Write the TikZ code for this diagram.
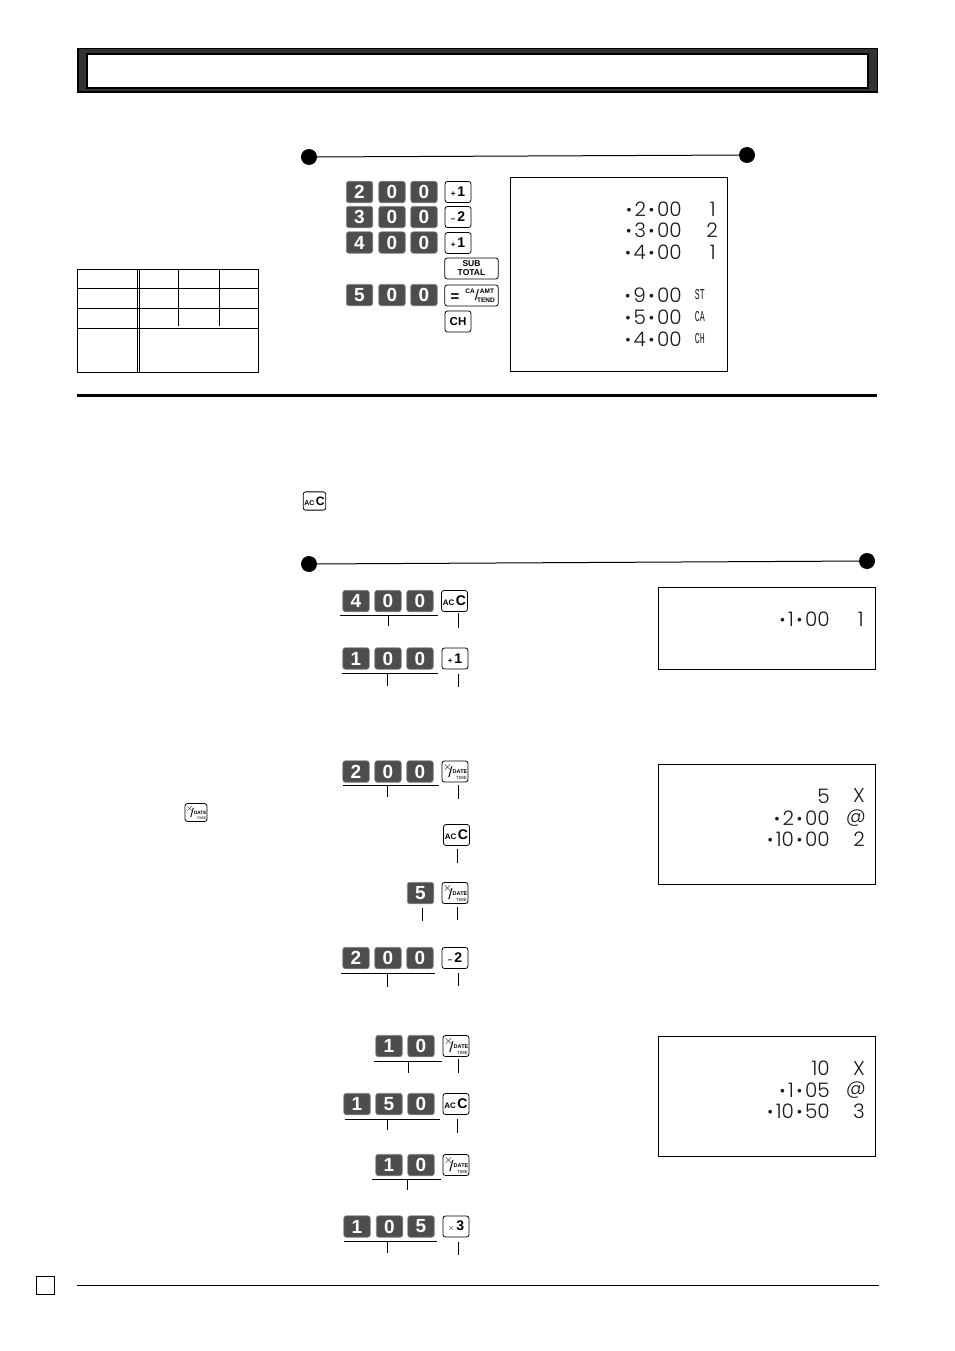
\documentclass[tikz,border=0pt]{standalone}
\usepackage{fontspec,graphicx}
\setsansfont{Liberation Sans}
\newfontfamily\lcdfont{Poppins Light}
\newfontfamily\lcdnarrow{Liberation Mono}
\definecolor{keydark}{HTML}{4D4D4D}
\definecolor{barband}{HTML}{333333}
\newcommand{\lcddot}{\raisebox{1pt}{\scalebox{.8}{\,•\,}}}
\newcommand{\lcdtag}[1]{\scalebox{.55}[1]{{\lcdnarrow\fontsize{15}{15}\selectfont #1}}}
\newcommand{\keytick}[4]{
	\coordinate (#1a) at (#2,#3);
	\coordinate (#1b) at (#2,#4);
	\draw [ mark line ] (#1a) -- (#1b);
}
\newcommand{\keyline}[4]{
	\coordinate (#1a) at (#2,#4);
	\coordinate (#1b) at (#3,#4);
	\draw [ mark line ] (#1a) -- (#1b);
}
\newcommand{\datekey}[4]{
	\begin{scope}[shift={(#2,#3)},scale=#4,transform shape]
		\node [fnkey] (#1) at (0,0) {};
		\node [font=\sffamily\bfseries\fontsize{12}{12}\selectfont,inner sep=0pt] (#1x) at (-7.5,-4.5) {$\times$};
		\node [font=\sffamily\fontsize{15}{15}\selectfont,inner sep=0pt] (#1s) at (-4.5,1) {/};
		\node [font=\sffamily\bfseries\fontsize{5.5}{5.5}\selectfont,inner sep=0pt] (#1d) at (5,0.5) {DATE};
		\node [font=\sffamily\bfseries\fontsize{4.5}{4.5}\selectfont,text=black!65,inner sep=0pt] (#1t) at (6.5,6.5) {TIME};
	\end{scope}
}
\newcommand{\ackey}[2]{
	\node [fnkey] (#1) at #2
		{ {\fontsize{8}{8}\selectfont AC}\hspace{1.5pt}{\fontsize{14}{14}\selectfont C} };
}
\newcommand{\numkey}[4]{
	\node [fnkey] (#1) at #2
		{ {\fontsize{#4}{#4}\selectfont #3} };
}
\tikzset{
	numkey/.style={fill=keydark,draw=black!45,line width=.6pt,rounded corners=2.5pt,
		minimum width=26.5pt,minimum height=21.5pt,inner sep=0pt,text=white,
		font=\sffamily\bfseries\fontsize{19}{19}\selectfont},
	fnkey/.style={fill=white,draw=black,line width=.8pt,rounded corners=2.5pt,
		minimum width=26pt,minimum height=21pt,inner sep=0pt,
		font=\sffamily\bfseries\fontsize{14}{14}\selectfont},
	widekey/.style={fnkey,minimum width=53.5pt},
	lcd/.style={font=\lcdfont\fontsize{20}{20}\selectfont,inner sep=0pt,anchor=east,text=black!90},
	frame/.style={draw=black,line width=1pt},
	mark line/.style={draw=black,line width=1pt},
	rule dot/.style={circle,fill=black,minimum size=16pt,inner sep=0pt},
	cell line/.style={draw=black,line width=1pt}
}
\begin{document}
\begin{tikzpicture}[x=1pt,y=-1pt]
	\useasboundingbox (0,0) rectangle (954,1351);
	% title bar
	\fill [black] (77,48) rectangle (878,93);
	\fill [barband] (78.5,49.5) rectangle (876.5,91.5);
	\filldraw [fill=white,draw=black,line width=2pt] (87,54.5) rectangle (868,88);
	% first example
	\node [rule dot] (dotA) at (309,157) {};
	\node [rule dot] (dotB) at (747,155) {};
	\draw [ mark line ] (dotA) -- (dotB);
	\node [numkey] (k2a) at (359.5,192) {2};
	\node [numkey] (k2b) at (392,192) {0};
	\node [numkey] (k2c) at (424,192) {0};
	\numkey{kp1}{(458,192)}{{\fontsize{8}{8}\selectfont +}\hspace{2pt}1}{14}
	\node [numkey] (k3a) at (359.5,217) {3};
	\node [numkey] (k3b) at (392,217) {0};
	\node [numkey] (k3c) at (424,217) {0};
	\numkey{kp2}{(458,217)}{{\fontsize{8}{8}\selectfont --}\hspace{2pt}2}{14}
	\node [numkey] (k4a) at (359.5,242.5) {4};
	\node [numkey] (k4b) at (392,242.5) {0};
	\node [numkey] (k4c) at (424,242.5) {0};
	\numkey{kp3}{(458,243)}{{\fontsize{8}{8}\selectfont +}\hspace{2pt}1}{14}
	\node [widekey,align=center,font=\sffamily\bfseries\fontsize{8.5}{9}\selectfont] (ksub) at (471.5,268.5) {SUB\\TOTAL};
	\node [numkey] (k5a) at (359.5,295) {5};
	\node [numkey] (k5b) at (392,295) {0};
	\node [numkey] (k5c) at (424,295) {0};
	\node [widekey] (kca) at (471.5,295.5) {};
	\node [font=\sffamily\bfseries\fontsize{15}{15}\selectfont,inner sep=0pt] (kcaeq) at (455,298) {=};
	\node [font=\sffamily\bfseries\fontsize{6.5}{6.5}\selectfont,inner sep=0pt] (kcaca) at (470,291) {CA};
	\node [font=\sffamily\fontsize{15}{15}\selectfont,inner sep=0pt] (kcasl) at (477,295.5) {/};
	\node [font=\sffamily\bfseries\fontsize{6.5}{6.5}\selectfont,inner sep=0pt] (kcaam) at (487,291) {AMT};
	\node [font=\sffamily\bfseries\fontsize{6.5}{6.5}\selectfont,inner sep=0pt] (kcate) at (486,300) {TEND};
	\numkey{kch}{(458,321.5)}{CH}{11.5}
	\node [frame,minimum width=217pt,minimum height=194pt,inner sep=0pt] (dispA) at (618.5,274.5) {};
	\node [lcd] (a1) at (682,209) {\lcddot 2\lcddot 00};
	\node [lcd] (a1t) at (716,209) {1};
	\node [lcd] (a2) at (682,230) {\lcddot 3\lcddot 00};
	\node [lcd] (a2t) at (718,230) {2};
	\node [lcd] (a3) at (682,252) {\lcddot 4\lcddot 00};
	\node [lcd] (a3t) at (716,252) {1};
	\node [lcd] (a4) at (682,295) {\lcddot 9\lcddot 00};
	\node [lcd] (a4t) at (705,295) {\lcdtag{ST}};
	\node [lcd] (a5) at (682,317) {\lcddot 5\lcddot 00};
	\node [lcd] (a5t) at (705,317) {\lcdtag{CA}};
	\node [lcd] (a6) at (682,339) {\lcddot 4\lcddot 00};
	\node [lcd] (a6t) at (705,339) {\lcdtag{CH}};
	% table
	\draw [ cell line ] (77.5,269.5) rectangle (258.5,372.5);
	\draw [ cell line ] (137.5,269.5) -- (137.5,372.5);
	\draw [ cell line ] (139.5,269.5) -- (139.5,372.5);
	\draw [ cell line ] (178.5,269.5) -- (178.5,326);
	\draw [ cell line ] (219.5,269.5) -- (219.5,326);
	\draw [ cell line ] (77.5,288.5) -- (258.5,288.5);
	\draw [ cell line ] (77.5,308.5) -- (258.5,308.5);
	\draw [ cell line ] (77.5,328) -- (258.5,328);
	% section rule and keys in the text
	\draw [line width=3pt] (77,395) -- (877,395);
	\begin{scope}[shift={(314.5,501)},scale=.87,transform shape]
		\ackey{kacT}{(0,0)}
	\end{scope}
	\datekey{kxT}{196}{812.5}{.85}
	% second example
	\node [rule dot] (dotC) at (309,564) {};
	\node [rule dot] (dotD) at (867,561) {};
	\draw [ mark line ] (dotC) -- (dotD);
	\node [numkey] (r1a) at (356,601) {4};
	\node [numkey] (r1b) at (388,601) {0};
	\node [numkey] (r1c) at (420,601) {0};
	\ackey{r1k}{(454.5,601)}
	\keyline{r1u}{340}{438}{615}
	\keytick{r1s}{388}{615}{626}
	\keytick{r1t}{458}{613}{628}
	\node [numkey] (r2a) at (356,658.5) {1};
	\node [numkey] (r2b) at (388,658.5) {0};
	\node [numkey] (r2c) at (420,658.5) {0};
	\numkey{r2k}{(455,658.5)}{{\fontsize{8}{8}\selectfont +}\hspace{2pt}1}{14}
	\keyline{r2u}{342}{438}{673}
	\keytick{r2s}{387}{673}{686}
	\keytick{r2t}{458}{674}{687}
	\node [frame,minimum width=217pt,minimum height=82pt,inner sep=0pt] (dispB) at (766.5,628) {};
	\node [lcd] (b1) at (830,619) {\lcddot 1\lcddot 00};
	\node [lcd] (b1t) at (864,619) {1};
	\node [numkey] (r3a) at (356,771.5) {2};
	\node [numkey] (r3b) at (388,771.5) {0};
	\node [numkey] (r3c) at (420,771.5) {0};
	\datekey{r3k}{455}{771.5}{1}
	\keyline{r3u}{343}{439}{785}
	\keytick{r3s}{387}{785}{797}
	\keytick{r3t}{458}{785}{799}
	\ackey{r4k}{(456.5,835)}
	\keytick{r4t}{457}{849}{863}
	\node [numkey] (r5a) at (420.5,893) {5};
	\datekey{r5k}{455}{893}{1}
	\keytick{r5s}{422}{908}{921}
	\keytick{r5t}{457}{907}{920}
	\node [numkey] (r6a) at (356,958) {2};
	\node [numkey] (r6b) at (388,958) {0};
	\node [numkey] (r6c) at (420,958) {0};
	\numkey{r6k}{(455,958)}{{\fontsize{8}{8}\selectfont --}\hspace{2pt}2}{14}
	\keyline{r6u}{341}{435}{973}
	\keytick{r6s}{387}{973}{987}
	\keytick{r6t}{458}{973}{986}
	\node [frame,minimum width=217pt,minimum height=120pt,inner sep=0pt] (dispC) at (766.5,824) {};
	\node [lcd] (c1) at (830,796) {5};
	\node [lcd] (c1t) at (865,796) {X};
	\node [lcd] (c2) at (830,818) {\lcddot 2\lcddot 00};
	\node [lcd] (c2t) at (866,818) {@};
	\node [lcd] (c3) at (830,839) {\lcddot 10\lcddot 00};
	\node [lcd] (c3t) at (865,839) {2};
	\node [numkey] (r7a) at (389,1046) {1};
	\node [numkey] (r7b) at (421,1046) {0};
	\datekey{r7k}{456}{1046}{1}
	\keyline{r7u}{374}{442}{1061}
	\keytick{r7s}{408}{1061}{1073}
	\keytick{r7t}{458}{1059}{1073}
	\node [numkey] (r8a) at (357,1104) {1};
	\node [numkey] (r8b) at (389,1104) {5};
	\node [numkey] (r8c) at (421,1104) {0};
	\ackey{r8k}{(456,1104)}
	\keyline{r8u}{345}{440}{1119}
	\keytick{r8s}{387}{1119}{1130}
	\keytick{r8t}{457}{1119}{1133}
	\node [numkey] (r9a) at (389,1165) {1};
	\node [numkey] (r9b) at (421,1165) {0};
	\datekey{r9k}{456}{1165}{1}
	\keyline{r9u}{372}{441}{1179}
	\keytick{r9s}{407}{1179}{1190}
	\node [numkey] (r10a) at (357,1226.5) {1};
	\node [numkey] (r10b) at (389.5,1226.5) {0};
	\node [numkey] (r10c) at (421,1226.5) {5};
	\numkey{r10k}{(456,1226.5)}{{\fontsize{8}{8}\selectfont $\times$}\hspace{2pt}3}{14}
	\keyline{r10u}{344}{437}{1241}
	\keytick{r10s}{387}{1241}{1253}
	\keytick{r10t}{458}{1242}{1255}
	\node [frame,minimum width=217pt,minimum height=120pt,inner sep=0pt] (dispD) at (766.5,1096) {};
	\node [lcd] (d1) at (830,1068) {10};
	\node [lcd] (d1t) at (865,1068) {X};
	\node [lcd] (d2) at (830,1090) {\lcddot 1\lcddot 05};
	\node [lcd] (d2t) at (866,1090) {@};
	\node [lcd] (d3) at (830,1111) {\lcddot 10\lcddot 50};
	\node [lcd] (d3t) at (865,1111) {3};
	% page foot
	\node [draw=black,line width=1pt,minimum size=18pt,inner sep=0pt] (pagebox) at (45,1285) {};
	\coordinate (footA) at (77,1285);
	\coordinate (footB) at (879,1285);
	\draw [line width=.7pt] (footA) -- (footB);
\end{tikzpicture}
\end{document}
